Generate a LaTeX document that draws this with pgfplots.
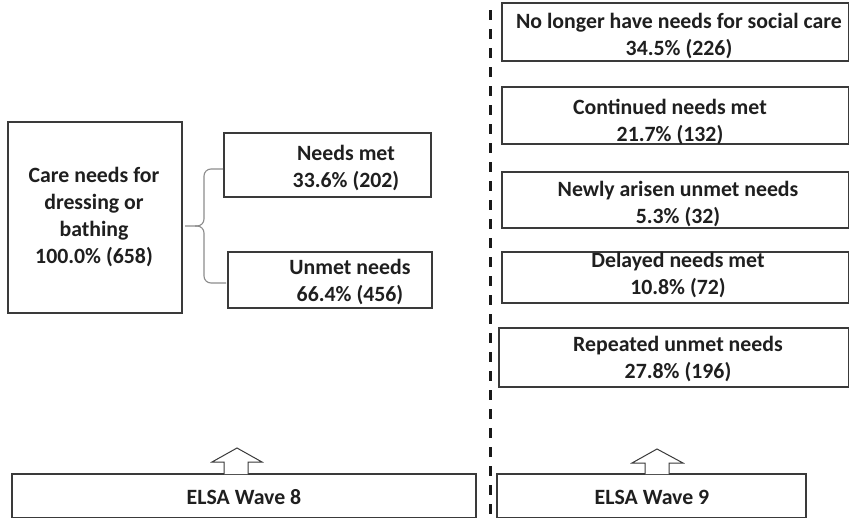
\documentclass[border=0pt]{standalone}
\usepackage{pgfplots}
\pgfplotsset{compat=1.18}
\usepackage{fontspec}
\setmainfont{Carlito}
\definecolor{boxc}{HTML}{3A3A3A}
\tikzset{lbl/.style={font=\bfseries\fontsize{21.8}{27}\selectfont,align=center,text=black!88,inner sep=0pt}}
\begin{document}
\begin{tikzpicture}
\begin{axis}[width=849pt,height=517pt,scale only axis,
  xmin=0,xmax=849,ymin=0,ymax=517,y dir=reverse,hide axis,clip=true]
% background
\addplot[fill=white,draw=none] coordinates {(0,0)(849,0)(849,517)(0,517)} -- cycle;
% left boxes
\addplot[draw=boxc,line width=1.2pt] coordinates {(8,122)(182,122)(182,313)(8,313)} -- cycle;
\addplot[draw=boxc,line width=1.2pt] coordinates {(224,133)(431,133)(431,197)(224,197)} -- cycle;
\addplot[draw=boxc,line width=1.2pt] coordinates {(228,252)(432,252)(432,308)(228,308)} -- cycle;
% brace
\addplot[draw=black!45,line width=1.1pt,rounded corners=7pt] coordinates {(223,169)(204,169)(204,226)(185,226)};
\addplot[draw=black!45,line width=1.1pt,rounded corners=7pt] coordinates {(226,283)(204,283)(204,226)(195,226)};
% right boxes
\addplot[draw=boxc,line width=1.2pt] coordinates {(502,3)(849,3)(849,61)(502,61)} -- cycle;
\addplot[draw=boxc,line width=1.2pt] coordinates {(502,87)(849,87)(849,144)(502,144)} -- cycle;
\addplot[draw=boxc,line width=1.2pt] coordinates {(502,172)(849,172)(849,228)(502,228)} -- cycle;
\addplot[draw=boxc,line width=1.2pt] coordinates {(502,252)(849,252)(849,303)(502,303)} -- cycle;
\addplot[draw=boxc,line width=1.2pt] coordinates {(499,328)(849,328)(849,387)(499,387)} -- cycle;
% wave boxes
\addplot[draw=boxc,line width=1.2pt] coordinates {(12,474)(476,474)(476,518)(12,518)} -- cycle;
\addplot[draw=boxc,line width=1.2pt] coordinates {(497,474)(806,474)(806,518)(497,518)} -- cycle;
% arrows
\addplot[draw=boxc,fill=white,line width=1pt] coordinates {(224,474)(224,462)(212,462)(237,448)(262,462)(248,462)(248,474)};
\addplot[draw=boxc,fill=white,line width=1pt] coordinates {(645,474)(645,463)(632,463)(657,449)(683,463)(669,463)(669,474)};
% dashed divider
\addplot[draw=black!90,line width=3pt,dash pattern=on 10pt off 9pt] coordinates {(490,10)(490,517)};
% texts
\node[lbl] at (axis cs:94,217) {Care needs for\\dressing or\\bathing\\100.0\% (658)};
\node[lbl] at (axis cs:346,168) {Needs met\\33.6\% (202)};
\node[lbl] at (axis cs:350,282) {Unmet needs\\66.4\% (456)};
\node[lbl] at (axis cs:679,36) {No longer have needs for social care\\34.5\% (226)};
\node[lbl] at (axis cs:670,122) {Continued needs met\\21.7\% (132)};
\node[lbl] at (axis cs:678,204) {Newly arisen unmet needs\\5.3\% (32)};
\node[lbl] at (axis cs:678,275) {Delayed needs met\\10.8\% (72)};
\node[lbl] at (axis cs:678,359) {Repeated unmet needs\\27.8\% (196)};
\node[lbl] at (axis cs:244,497) {ELSA Wave 8};
\node[lbl] at (axis cs:652,497) {ELSA Wave 9};
\end{axis}
\end{tikzpicture}
\end{document}
